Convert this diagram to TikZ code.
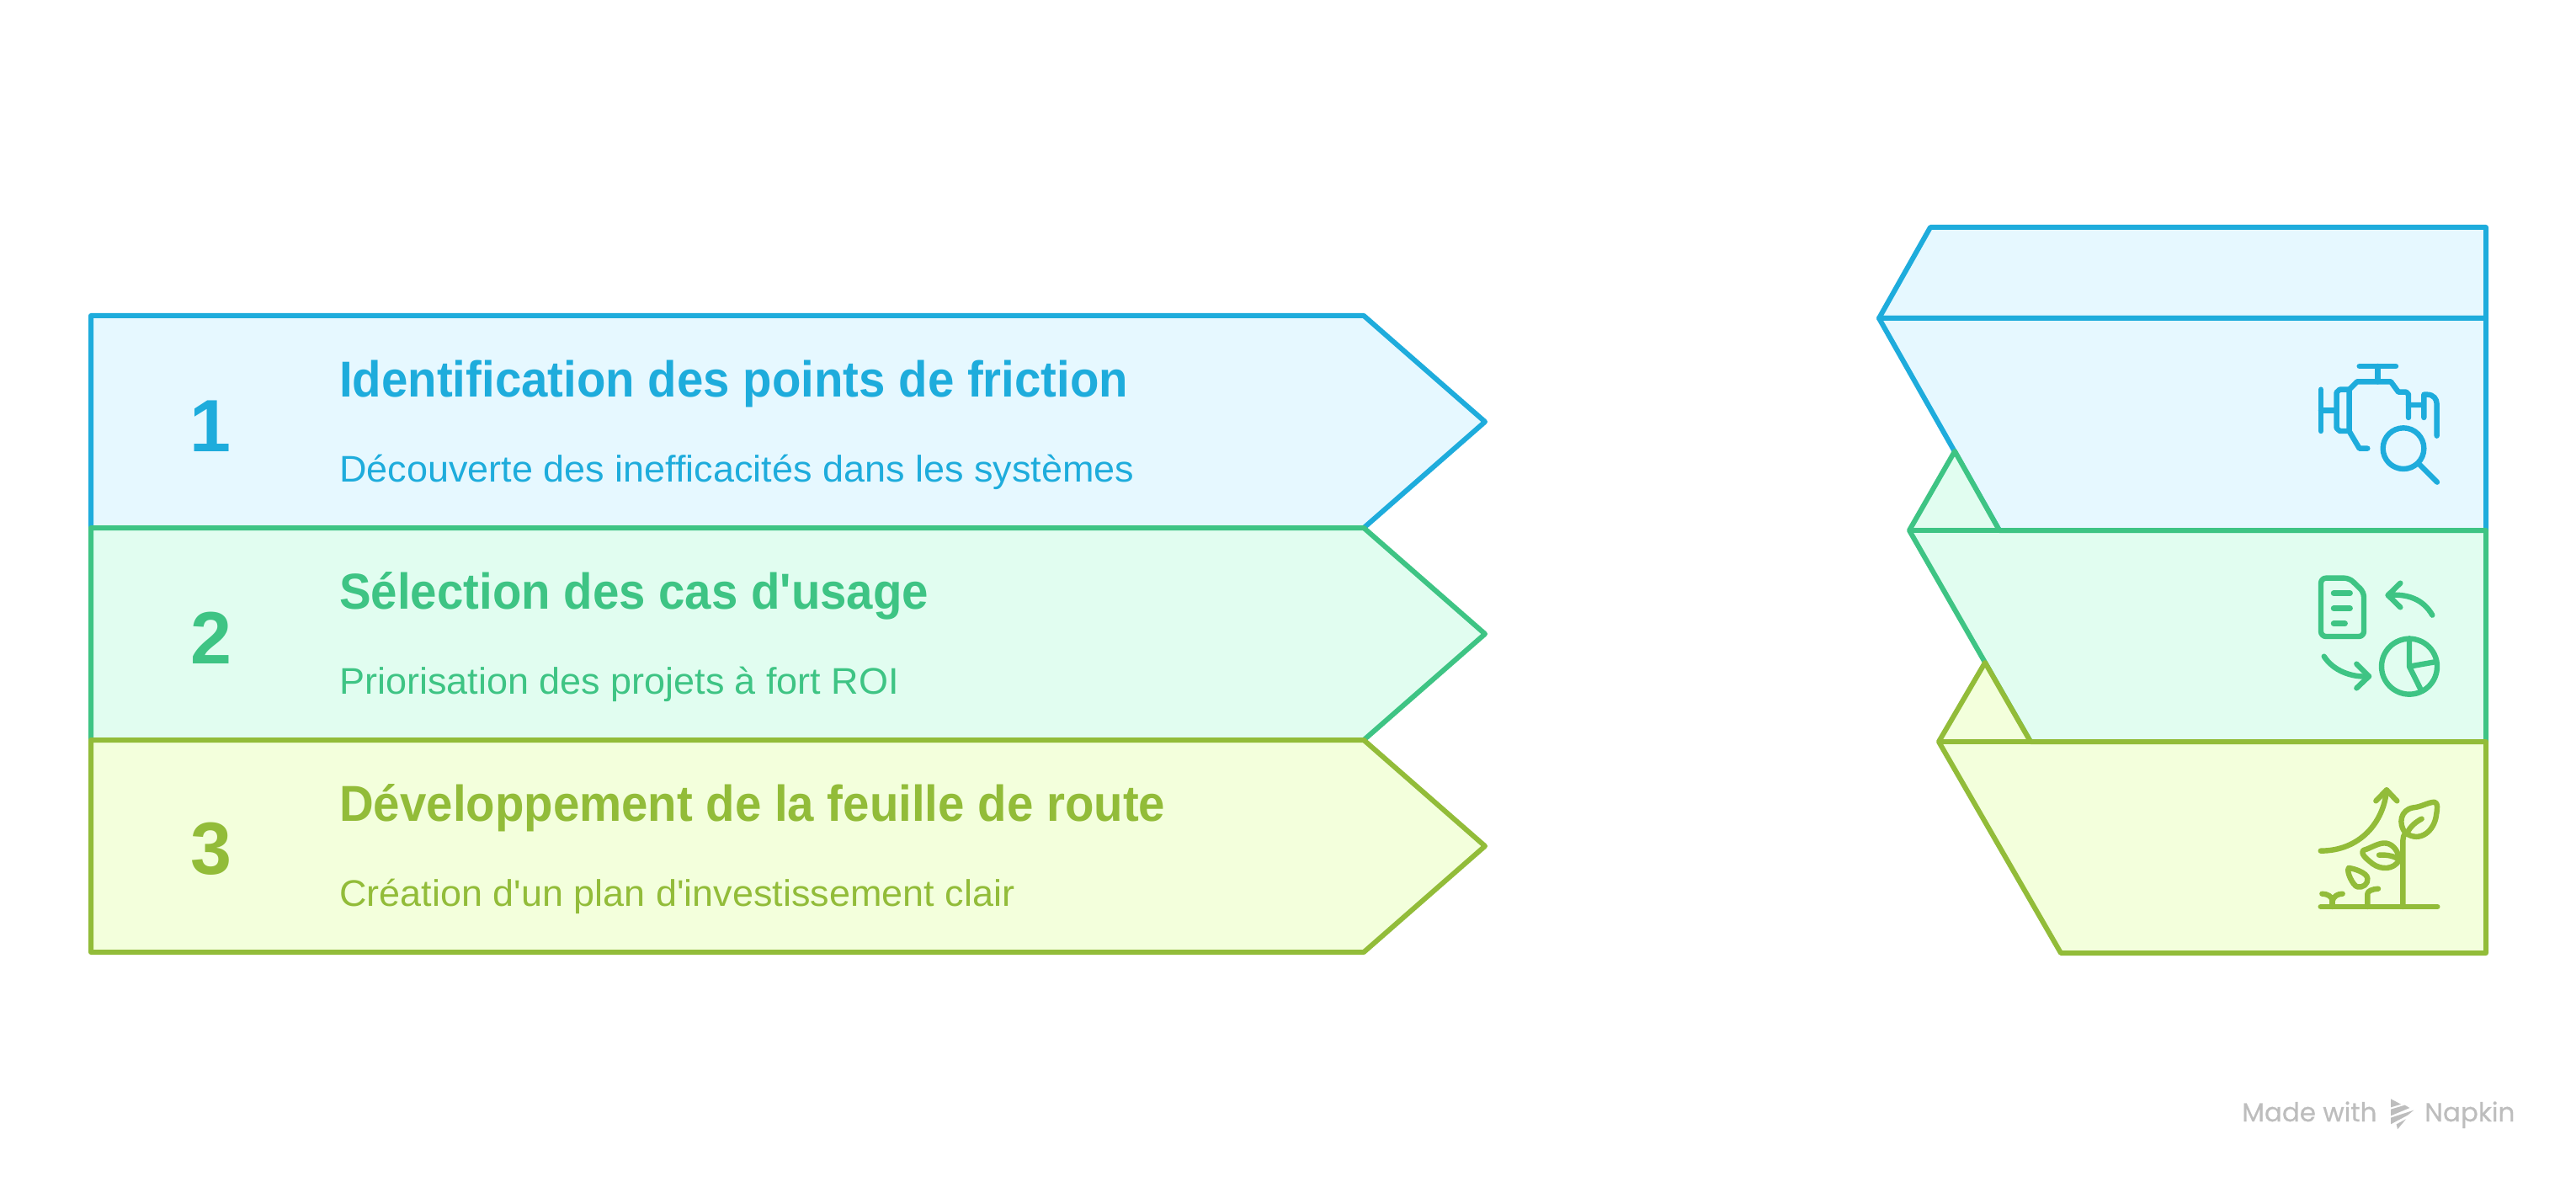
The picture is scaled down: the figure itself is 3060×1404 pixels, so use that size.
\documentclass[tikz,border=0pt]{standalone}
\usepackage{fontspec}
\setmainfont[Ligatures=ResetAll]{Liberation Sans}
\newfontfamily\titlefont[Ligatures=ResetAll,FakeStretch=0.94]{Liberation Sans}
\newfontfamily\subfont[Ligatures=ResetAll,FakeStretch=1.022]{Liberation Sans}
\newfontfamily\markfont[FakeBold=0.5]{Poppins}
\definecolor{cblue}{HTML}{1EACDC}
\definecolor{fblue}{HTML}{E6F8FF}
\definecolor{cgreen}{HTML}{3EC484}
\definecolor{fgreen}{HTML}{E1FDF0}
\definecolor{clime}{HTML}{92BC39}
\definecolor{flime}{HTML}{F3FFDC}
\definecolor{cmark}{HTML}{BDBDBD}
\tikzset{
  band/.style={line width=6pt,line join=round},
  glyph/.style={line width=6.4pt,line cap=round,line join=round},
  numtext/.style={anchor=base,inner sep=0pt,font=\bfseries\fontsize{88}{88}\selectfont},
  titletext/.style={anchor=base west,inner sep=0pt,font=\titlefont\bfseries\fontsize{60}{60}\selectfont},
  subtext/.style={anchor=base west,inner sep=0pt,font=\subfont\fontsize{44}{44}\selectfont},
  marktext/.style={anchor=base west,inner sep=0pt,text=cmark,font=\markfont\fontsize{31}{31}\selectfont}
}
\begin{document}
\begin{tikzpicture}[x=1pt,y=-1pt]
\useasboundingbox (0,0) rectangle (3060,1404);
\fill[white] (0,0) rectangle (3060,1404);
% left arrows
\draw[band,draw=cblue,fill=fblue] (108,375)--(1620,375)--(1764,501)--(1620,627)--(108,627)--cycle;
\draw[band,draw=cgreen,fill=fgreen] (108,627)--(1620,627)--(1764,753)--(1620,879)--(108,879)--cycle;
\draw[band,draw=clime,fill=flime] (108,879)--(1620,879)--(1764,1005)--(1620,1131)--(108,1131)--cycle;
\node[numtext,text=cblue] (n1) at (250,536) {1};
\node[numtext,text=cgreen] (n2) at (251,788) {2};
\node[numtext,text=clime] (n3) at (251,1038) {3};
\node[titletext,text=cblue] (t1) at (403,471) {Identification des points de friction};
\node[titletext,text=cgreen] (t2) at (403,723) {Sélection des cas d'usage};
\node[titletext,text=clime] (t3) at (403,975) {Développement de la feuille de route};
\node[subtext,text=cblue] (s1) at (403,572) {Découverte des inefficacités dans les systèmes};
\node[subtext,text=cgreen] (s2) at (403,824) {Priorisation des projets à fort ROI};
\node[subtext,text=clime] (s3) at (403,1076) {Création d'un plan d'investissement clair};
% right stack
\draw[band,draw=cblue,fill=fblue] (2293,270)--(2953,270)--(2953,378)--(2232,378)--cycle;
\draw[band,draw=cblue,fill=fblue] (2232,378)--(2953,378)--(2953,630)--(2375,630)--cycle;
\draw[band,draw=cgreen,fill=fgreen] (2322,536)--(2375,630)--(2953,630)--(2953,881)--(2412,881)--(2268,630)--cycle;
\draw[band,draw=cgreen] (2268,630)--(2375,630);
\draw[band,draw=clime,fill=flime] (2358,787)--(2412,881)--(2953,881)--(2953,1132)--(2448,1132)--(2303,881)--cycle;
\draw[band,draw=clime] (2303,881)--(2412,881);
% icon 1
\begin{scope}[shift={(2680,380)},scale=1/3,glyph,draw=cblue]
\draw (368,165)--(498,165) (433,165)--(433,220);
\draw (397,458)--(368,458)--(332,397)--(332,248)--(360,220)--(480,220)--(507,257)--(535,257)--(543,265)--(543,348);
\draw (332,248)--(298,248)--(287,258)--(287,386)--(298,396)--(332,396);
\draw (231,248)--(231,396) (231,322)--(287,322);
\draw (543,303)--(598,303) (598,348)--(598,266)--(610,266) .. controls (632,266) and (644,282) .. (644,300)--(644,413);
\draw (525,458) circle[radius=73];
\draw (582,515)--(645,578);
\end{scope}
% icon 2
\begin{scope}[shift={(2720,660)},scale=1/3,glyph,draw=cgreen]
\draw[rounded corners=6pt] (111,80)--(212,80)--(264,130)--(264,288)--(111,288)--cycle;
\draw (156,134)--(215,134) (156,188)--(215,188) (156,242)--(197,242);
\draw (394,98)--(350,141)--(394,184);
\draw (350,141) .. controls (420,135) and (475,155) .. (508,212);
\draw (122,359) .. controls (155,410) and (220,435) .. (282,430);
\draw (238,386)--(282,430)--(238,472);
\draw (426,395) circle[radius=99];
\draw (426,295)--(426,395)--(522,378) (426,395)--(468,480);
\end{scope}
% icon 3
\begin{scope}[shift={(2720,920)},scale=1/3,glyph,draw=clime]
\draw (110,471)--(526,471);
\draw (110,272) .. controls (250,272) and (335,170) .. (345,55);
\draw (307,94)--(345,55)--(382,94);
\draw (403,471)--(403,235) .. controls (403,225) and (406,215) .. (412,208);
\draw (412,208) .. controls (385,175) and (395,125) .. (440,118) .. controls (470,115) and (490,100) .. (515,98) .. controls (530,100) and (525,125) .. (522,145) .. controls (515,200) and (465,245) .. (412,208) -- cycle;
\draw (420,205) .. controls (430,185) and (450,168) .. (470,158);
\draw (262,270) .. controls (290,262) and (320,240) .. (345,245) .. controls (370,250) and (388,275) .. (390,305) .. controls (370,340) and (325,340) .. (295,318) .. controls (280,305) and (250,285) .. (262,270) -- cycle;
\draw (318,287) .. controls (345,285) and (380,290) .. (400,312);
\draw (277,471)--(277,425) .. controls (277,415) and (295,408) .. (315,407);
\draw (210,333) .. controls (230,335) and (275,350) .. (277,370) .. controls (280,390) and (260,405) .. (240,400) .. controls (225,395) and (200,345) .. (210,333) -- cycle;
\draw (152,471)--(152,445);
\draw (115,425) .. controls (135,425) and (150,435) .. (152,450) .. controls (155,435) and (170,425) .. (188,425);
\end{scope}
% watermark
\node[marktext] (m1) at (2663,1332) {Made with};
\node[marktext] (m2) at (2880,1332) {Napkin};
\begin{scope}[shift={(2640,1280)},scale=1/3]
\fill[cmark] (600,76)--(636,95)--(600,106)--cycle;
\fill[cmark] (600,113)--(650,98)--(667,108)--(600,136)--cycle;
\fill[cmark] (600,143)--(682,116)--(660,134)--(600,166)--cycle;
\fill[cmark] (620,166)--(654,148)--(624,184)--cycle;
\end{scope}
\end{tikzpicture}
\end{document}
